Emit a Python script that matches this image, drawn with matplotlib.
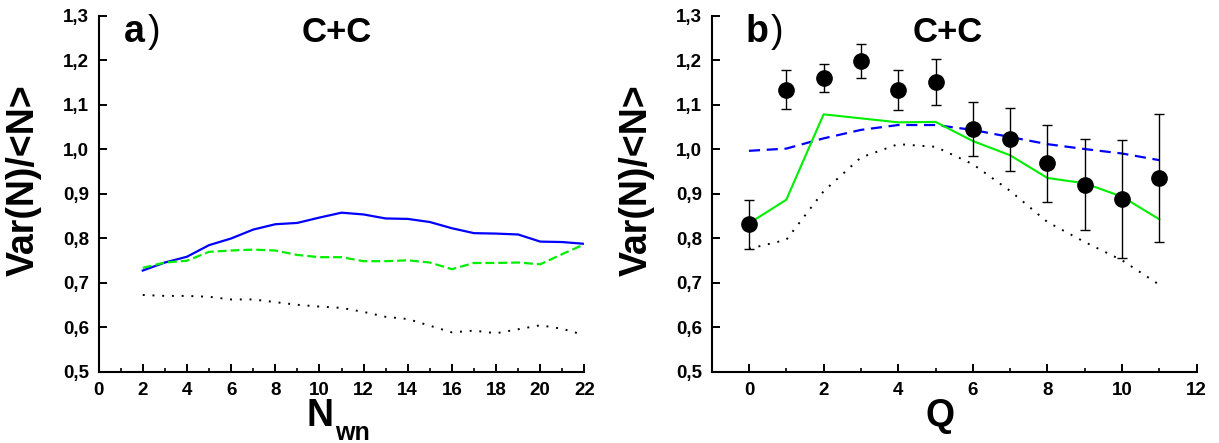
import matplotlib
matplotlib.use("Agg")
import matplotlib.pyplot as plt
from matplotlib.ticker import MultipleLocator, FuncFormatter

plt.rcParams['font.family'] = ['Liberation Sans', 'DejaVu Sans']

# ---- panel a data ----
nwn = list(range(2, 23))
a_blue = [0.728, 0.746, 0.759, 0.785, 0.800, 0.820, 0.832, 0.835, 0.847, 0.858, 0.854,
          0.845, 0.844, 0.837, 0.823, 0.812, 0.811, 0.809, 0.793, 0.792, 0.788]
a_green = [0.734, 0.746, 0.750, 0.770, 0.773, 0.775, 0.773, 0.763, 0.758, 0.758, 0.749,
           0.749, 0.751, 0.746, 0.731, 0.745, 0.745, 0.746, 0.742, 0.765, 0.787]
a_black = [0.673, 0.671, 0.671, 0.669, 0.663, 0.663, 0.657, 0.651, 0.647, 0.644, 0.635,
           0.624, 0.619, 0.604, 0.589, 0.593, 0.587, 0.596, 0.605, 0.597, 0.583]

# ---- panel b data ----
q = list(range(0, 12))
b_data = [0.833, 1.134, 1.160, 1.198, 1.134, 1.152, 1.046, 1.023, 0.970, 0.921, 0.888, 0.936]
b_err_hi = [0.887, 1.178, 1.192, 1.236, 1.178, 1.203, 1.107, 1.094, 1.055, 1.023, 1.021, 1.080]
b_err_lo = [0.777, 1.090, 1.130, 1.161, 1.088, 1.100, 0.986, 0.952, 0.883, 0.818, 0.757, 0.791]
b_green = [0.834, 0.887, 1.079, 1.070, 1.061, 1.062, 1.019, 0.987, 0.936, 0.924, 0.894, 0.843]
b_blue = [0.997, 1.002, 1.025, 1.044, 1.055, 1.055, 1.044, 1.028, 1.012, 1.001, 0.991, 0.976]
b_black = [0.777, 0.797, 0.906, 0.982, 1.012, 1.006, 0.967, 0.907, 0.837, 0.792, 0.751, 0.696]

fig = plt.figure(figsize=(12.19, 4.43), dpi=100)
ax1 = fig.add_axes([0.0809, 0.1603, 0.3985, 0.8036])
ax2 = fig.add_axes([0.5838, 0.1603, 0.3979, 0.8036])

blue = '#0000ff'
green = '#00ee00'

ax1.plot(nwn, a_blue, color=blue, lw=1.6)
ax1.plot(nwn, a_green, color=green, lw=1.6, dashes=(4, 1.8))
ax1.plot(nwn, a_black, color='black', lw=1.4, dashes=(1, 4))

ax2.plot(q, b_blue, color=blue, lw=1.6, dashes=(5, 3))
ax2.plot(q, b_green, color=green, lw=1.5)
ax2.plot(q, b_black, color='black', lw=1.4, dashes=(1, 4))
yerr = [[v - lo for v, lo in zip(b_data, b_err_lo)], [hi - v for v, hi in zip(b_data, b_err_hi)]]
ax2.errorbar(q, b_data, yerr=yerr, fmt='o', color='black', ms=11, ecolor='black',
             elinewidth=1.0, capsize=3.5, capthick=1.0, zorder=3)

fmt = FuncFormatter(lambda v, p: ('%.1f' % v).replace('.', ','))
fmt_int = FuncFormatter(lambda v, p: '%d' % round(v))

for ax in (ax1, ax2):
    ax.set_ylim(0.5, 1.3)
    ax.yaxis.set_major_locator(MultipleLocator(0.1))
    ax.yaxis.set_major_formatter(fmt)
    ax.xaxis.set_major_locator(MultipleLocator(2))
    ax.xaxis.set_minor_locator(MultipleLocator(1))
    ax.xaxis.set_major_formatter(fmt_int)
    ax.spines['top'].set_visible(False)
    ax.spines['right'].set_visible(False)
    for s in ('left', 'bottom'):
        ax.spines[s].set_linewidth(1.5)
    ax.tick_params(which='major', direction='in', length=5.5, width=1.4, labelsize=13.5, pad=7)
    ax.tick_params(which='minor', direction='in', length=2.8, width=1.2)
    ax.tick_params(axis='y', which='minor', left=False)
    for lab in ax.get_xticklabels() + ax.get_yticklabels():
        lab.set_fontweight('bold')
    ax.set_ylabel('Var(N)/<N>', fontsize=27, fontweight='bold')
    ax.yaxis.label.set_va('center')
    ax.yaxis.set_label_coords(-0.155, 0.54)

ax1.set_xlim(0, 22)
ax2.set_xlim(-1, 12)

ax1.set_xlabel('N', fontsize=27, fontweight='bold')
ax2.set_xlabel('Q', fontsize=27, fontweight='bold')
for ax, xc in ((ax1, 0.456), (ax2, 0.47)):
    ax.xaxis.label.set_va('top')
    ax.xaxis.set_label_coords(xc, -0.072)
ax1.text(0.486, -0.19, 'wn', transform=ax1.transAxes, ha='left', va='baseline',
         fontsize=18, fontweight='bold')

ax1.text(0.49, 0.955, 'C+C', transform=ax1.transAxes, ha='center', va='center',
         fontsize=25, fontweight='bold')
ax2.text(0.487, 0.955, 'C+C', transform=ax2.transAxes, ha='center', va='center',
         fontsize=25, fontweight='bold')
for ax, letter, xl in ((ax1, 'a', 0.052), (ax2, 'b', 0.069)):
    t = ax.text(xl, 0.955, letter, transform=ax.transAxes, ha='left', va='center',
                fontsize=27, fontweight='bold')
    ax.annotate(')', xy=(1.0, 0.5), xycoords=t, xytext=(2, 0), textcoords='offset points',
                ha='left', va='center', fontsize=27)

fig.savefig('out.png', dpi=100)
